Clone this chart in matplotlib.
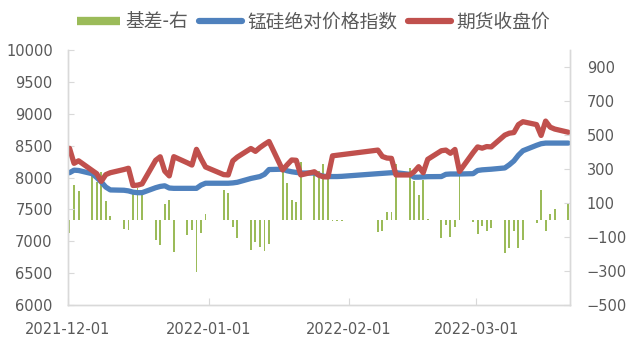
import matplotlib
matplotlib.use('Agg')
import matplotlib.pyplot as plt
import matplotlib.dates as mdates
from matplotlib.lines import Line2D
import numpy as np
import pandas as pd

# trading days shown on the chart
dates = [
    '2021-12-01', '2021-12-02', '2021-12-03', '2021-12-06', '2021-12-07', '2021-12-08', '2021-12-09',
    '2021-12-10', '2021-12-13', '2021-12-14', '2021-12-15', '2021-12-16', '2021-12-17', '2021-12-20',
    '2021-12-21', '2021-12-22', '2021-12-23', '2021-12-24', '2021-12-27', '2021-12-28', '2021-12-29',
    '2021-12-30', '2021-12-31',
    '2022-01-04', '2022-01-05', '2022-01-06', '2022-01-07', '2022-01-10', '2022-01-11', '2022-01-12',
    '2022-01-13', '2022-01-14', '2022-01-17', '2022-01-18', '2022-01-19', '2022-01-20', '2022-01-21',
    '2022-01-24', '2022-01-25', '2022-01-26', '2022-01-27', '2022-01-28', '2022-01-29', '2022-01-30',
    '2022-02-07', '2022-02-08', '2022-02-09', '2022-02-10', '2022-02-11', '2022-02-14', '2022-02-15',
    '2022-02-16', '2022-02-17', '2022-02-18', '2022-02-21', '2022-02-22', '2022-02-23', '2022-02-24',
    '2022-02-25', '2022-02-28',
    '2022-03-01', '2022-03-02', '2022-03-03', '2022-03-04', '2022-03-07', '2022-03-08', '2022-03-09',
    '2022-03-10', '2022-03-11', '2022-03-14', '2022-03-15', '2022-03-16', '2022-03-17', '2022-03-18',
    '2022-03-21',
]

# 基差 (right axis)
basis = [
    -77, 204, 168, 272, 223, 282, 110, 21, -55, -60, 178, 187, 160, -115, -149, 97, 116, -190,
    -91, -60, -308, -78, 37,
    175, 157, -43, -108, -179, -132, -161, -185, -144, 287, 215, 115, 108, 339, 265, 290, 328,
    268, -8, -8, -8,
    -73, -65, 50, 49, 330, 307, 229, 150, 234, 8, -106, -27, -100, -41, 270, -10,
    -83, -37, -65, -47, -195, -165, -65, -165, -118, -18, 177, -65, 33, 65, 102,
]

# 锰硅绝对价格指数
index = [
    8075, 8115, 8110, 8060, 8000, 7930, 7850, 7805, 7800, 7790, 7770, 7762, 7762, 7840, 7860,
    7870, 7835, 7830, 7830, 7830, 7830, 7880, 7910,
    7910, 7910, 7915, 7925, 7985, 8000, 8015, 8050, 8125, 8130, 8105, 8090, 8080, 8070, 8070,
    8040, 8020, 8015, 8015, 8015, 8018,
    8060, 8065, 8070, 8075, 8075, 8050, 8005, 8005, 8010, 8013, 8015, 8050, 8055, 8055, 8055, 8060,
    8110, 8120, 8125, 8130, 8150, 8200, 8260, 8350, 8420, 8505, 8530, 8540, 8540, 8540, 8540,
]

# 期货收盘价 (no quotes on the two weekend working days)
futures = [
    8458, 8222, 8262, 8110, 8060, 7940, 8045, 8075, 8125, 8145, 7875, 7880, 7900, 8270, 8325,
    8100, 8025, 8327, 8230, 8195, 8442, 8295, 8165,
    8045, 8040, 8260, 8320, 8455, 8410, 8470, 8520, 8565, 8118, 8200, 8275, 8270, 8040, 8090,
    8035, 8010, 8010, 8340, np.nan, np.nan,
    8430, 8330, 8305, 8300, 8040, 8040, 8090, 8170, 8075, 8285, 8420, 8430, 8380, 8440, 8095, 8390,
    8480, 8460, 8485, 8480, 8665, 8695, 8705, 8830, 8875, 8830, 8660, 8885, 8790, 8760, 8710,
]

GREEN = '#9BBB59'
BLUE = '#4F81BD'
RED = '#C0504D'
AXIS = '#D9D9D9'
TEXT = '#595959'

plt.rcParams['font.family'] = ['DejaVu Sans', 'Noto Sans CJK SC']

x = pd.to_datetime(dates) + pd.Timedelta(hours=8)
futures = np.array(futures, dtype=float)
ok = ~np.isnan(futures)

fig = plt.figure(figsize=(6.27, 3.44), dpi=100)
ax = fig.add_axes([68 / 627, 39 / 344, 502 / 627, 255 / 344])
ax2 = ax.twinx()

ax2.bar(x, basis, width=0.42, color=GREEN, linewidth=0)
ax.plot(x, index, color=BLUE, lw=3.8, solid_joinstyle='round', solid_capstyle='round')
ax.plot(x[ok], futures[ok], color=RED, lw=3.8, solid_joinstyle='round', solid_capstyle='round')
ax.set_zorder(ax2.get_zorder() + 1)
ax.patch.set_visible(False)

ax.set_xlim(pd.Timestamp('2021-12-01'), pd.Timestamp('2022-03-21') + pd.Timedelta(hours=17))
ax.set_ylim(6000, 10000)
ax.set_yticks(np.arange(6000, 10001, 500))
ax2.set_ylim(-500, 1000)
ax2.set_yticks(np.arange(-500, 901, 200))

ax.xaxis.set_major_locator(mdates.MonthLocator())
ax.xaxis.set_major_formatter(mdates.DateFormatter('%Y-%m-%d'))

for a in (ax, ax2):
    a.spines['top'].set_visible(False)
    for s in ('left', 'right', 'bottom'):
        a.spines[s].set_color(AXIS)
        a.spines[s].set_linewidth(1.0)

ax.tick_params(axis='y', direction='in', length=4, color=AXIS, labelcolor=TEXT, labelsize=10.5, pad=11)
ax2.tick_params(axis='y', direction='in', length=4, color=AXIS, labelcolor=TEXT, labelsize=10.5, pad=12)
ax.tick_params(axis='x', direction='in', length=5, color=AXIS, labelcolor=TEXT, labelsize=10.5, pad=12)

handles = [
    Line2D([], [], color=GREEN, lw=6, solid_capstyle='butt'),
    Line2D([], [], color=BLUE, lw=4.5, solid_capstyle='round'),
    Line2D([], [], color=RED, lw=4.5, solid_capstyle='round'),
]
labels = ['基差-右', '锰硅绝对价格指数', '期货收盘价']
fig.legend(handles, labels, loc='center', bbox_to_anchor=(0.5, 1 - 22 / 344), ncol=3,
           frameon=False, handlelength=2.3, handletextpad=0.3, columnspacing=0.55,
           prop={'family': ['Noto Sans CJK SC'], 'size': 13.5}, labelcolor=TEXT)

fig.savefig('out.png', dpi=100)
